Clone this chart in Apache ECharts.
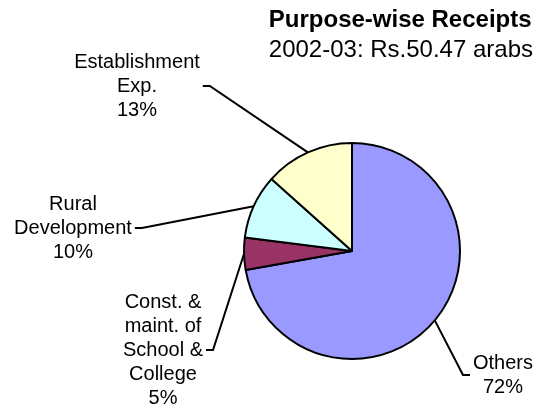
<!DOCTYPE html>
<html>
<head>
<meta charset="utf-8">
<script src="https://cdn.jsdelivr.net/npm/echarts@6/dist/echarts.min.js"></script>
<style>
html,body{margin:0;padding:0;background:#fff;}
#chart{width:537px;height:411px;}
</style>
</head>
<body>
<div id="chart"></div>
<script>
var categories = ['Others', 'Const. &\nmaint. of\nSchool &\nCollege', 'Rural\nDevelopment', 'Establishment\nExp.'];
var shares = [72.2, 4.8, 9.6, 13.4];
var titleText = 'Purpose-wise Receipts';
var subText = '2002-03: Rs.50.47 arabs';

var colors = ['#9999FF', '#993366', '#CCFFFF', '#FFFFCC'];
// label anchor (center) positions and which side the leader line attaches
var labelAnchor = [[503, 375, 'left'], [163, 350, 'right'], [73, 228, 'right'], [137, 86, 'right']];

var chart = echarts.init(document.getElementById('chart'));
var font = 'Liberation Sans, Arial, sans-serif';
chart.setOption({
  animation: false,
  title: {
    text: titleText,
    subtext: subText,
    right: 4,
    top: 7,
    padding: 0,
    itemGap: 3,
    textStyle: {fontFamily: font, fontSize: 24, fontWeight: 'bold', color: '#000', lineHeight: 27},
    subtextStyle: {fontFamily: font, fontSize: 24, color: '#000', lineHeight: 27}
  },
  series: [{
    type: 'pie',
    center: [352, 251],
    radius: 108,
    startAngle: 90,
    clockwise: true,
    percentPrecision: 0,
    data: categories.map(function (c, i) {
      return {name: c, value: shares[i], itemStyle: {color: colors[i]}};
    }),
    itemStyle: {borderColor: '#000', borderWidth: 2},
    label: {
      show: true,
      position: 'outside',
      formatter: '{b}\n{d}%',
      fontFamily: font,
      fontSize: 20,
      lineHeight: 24,
      color: '#000',
      align: 'center',
      overflow: 'none'
    },
    labelLine: {show: true, lineStyle: {color: '#000', width: 2}},
    labelLayout: function (p) {
      var a = labelAnchor[p.dataIndex];
      var w = p.labelRect.width;
      var start = p.labelLinePoints ? p.labelLinePoints[0] : [0, 0];
      var endX, bendX;
      if (a[2] === 'right') {
        endX = a[0] + w / 2 + 3;
        bendX = endX + 7;
      } else {
        endX = a[0] - w / 2 - 3;
        bendX = endX - 7;
      }
      return {
        x: a[0],
        y: a[1],
        align: 'center',
        verticalAlign: 'middle',
        labelLinePoints: [start, [bendX, a[1]], [endX, a[1]]]
      };
    }
  }]
});
</script>
</body>
</html>
